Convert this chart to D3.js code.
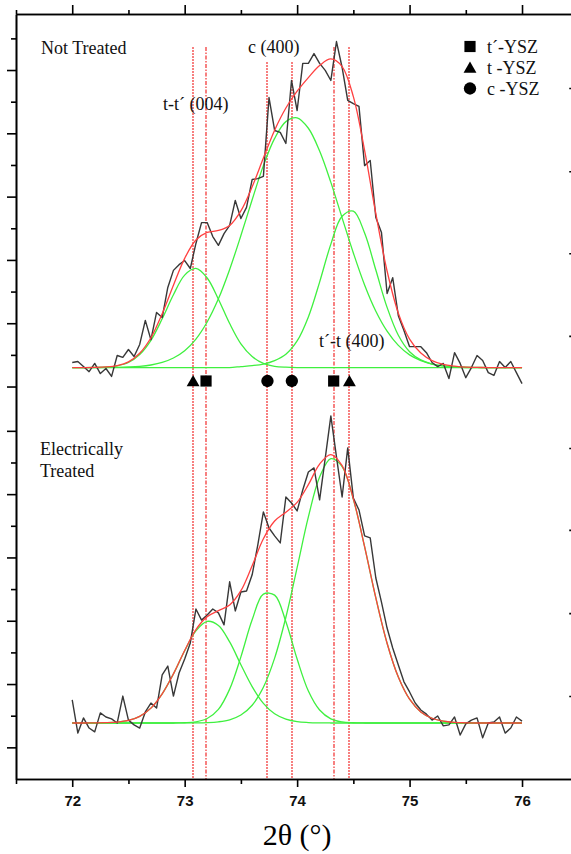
<!DOCTYPE html>
<html>
<head>
<meta charset="utf-8">
<script src="https://cdnjs.cloudflare.com/ajax/libs/d3/7.8.5/d3.min.js"></script>
<style>
    body { margin: 0; background: #fff; }
    svg { display: block; }
    .serif { font-family: "Liberation Serif", "Times New Roman", serif; }
    .tick-label { font-family: "Liberation Sans", Arial, sans-serif; font-weight: bold; }
</style>
</head>
<body>
<div id="chart"></div>
<script>

/* ---- Data (intensity in arbitrary counts, 2theta in degrees) ---- */

// measured scans, 72.00 .. 76.00 in 0.05 deg steps
var notTreatedScan = [16, 19, 3, -13, 13, -19, -3, -28, 38, 32,
    57, 35, 73, 149, 88, 174, 158, 253, 307, 325,
    338, 313, 392, 458, 458, 414, 386, 423, 449, 528,
    471, 506, 594, 597, 604, 853, 749, 743, 708, 907,
    812, 961, 961, 992, 961, 939, 907, 1030, 948, 844,
    834, 825, 638, 654, 474, 427, 234, 284, 164, 117,
    66, 66, 66, 47, 16, 3, 13, -35, 47, 13,
    -32, 0, 38, 22, -16, -25, 19, 0, 19, -16, -51];

var electricallyTreatedScan = [73, -32, 16, -16, -28, 32, 19, 13, 0, 85,
    9, -6, -16, 35, 63, 47, 152, 180, 85, 158,
    202, 253, 360, 325, 341, 360, 348, 310, 446, 354,
    414, 417, 468, 562, 667, 616, 591, 569, 714, 695,
    670, 736, 793, 806, 705, 837, 970, 841, 714, 869,
    711, 673, 591, 585, 458, 382, 300, 237, 183, 130,
    98, 63, 41, 28, 9, 22, -9, -6, 19, -38,
    -3, 9, 16, -47, 0, 3, 19, -32, -16, 19, 6];

// fitted curves, 72.0 .. 76.0 in 0.1 deg steps
var notTreatedFit = [0, 0, 0.4, 1.9, 6.3, 18, 45, 94, 170, 260,
    345, 403, 427, 433, 449, 495, 571, 662, 750, 820,
    873, 916, 954, 975, 951, 856, 686, 486, 305, 172,
    90, 46, 22, 10, 4.5, 1, 0.4, 0, 0, 0, 0];

var notTreatedPeakTT004 = [0, 0, 0.4, 1.6, 5.6, 16, 41, 86, 154, 230,
    292, 313, 283, 216, 139, 75, 35, 13, 4, 1,
    0, 0, 0, 0, 0, 0, 0, 0, 0, 0,
    0, 0, 0, 0, 0, 0, 0, 0, 0, 0, 0];

var notTreatedPeakC400 = [0, 0, 0, 0.3, 0.7, 1.7, 3.7, 8, 16, 30,
    53, 90, 144, 217, 310, 417, 530, 638, 724, 777,
    789, 756, 684, 585, 473, 362, 261, 178, 115, 70,
    40, 22, 11, 5, 2.5, 1, 0.4, 0, 0, 0, 0];

var notTreatedPeakTT400 = [0, 0, 0, 0, 0, 0, 0, 0, 0, 0,
    0, 0, 0, 0, 0, 3, 6, 11, 22, 42,
    84, 160, 270, 390, 478, 494, 425, 308, 190, 102,
    50, 24, 11, 5, 2, 0, 0, 0, 0, 0, 0];

var electricallyTreatedFit = [0, 0, 0.2, 0.8, 2.7, 8, 21, 47, 92, 155,
    229, 295, 336, 355, 373, 418, 497, 582, 638, 666,
    697, 753, 818, 848, 813, 708, 557, 395, 252, 145,
    75, 35, 15, 5.7, 1.9, 0.6, 0, 0, 0, 0, 0];

var electricallyTreatedPeak1 = [0, 0, 0.2, 0.8, 2.7, 8, 21, 47, 92, 155,
    228, 291, 321, 308, 256, 184, 115, 62, 29, 12,
    4, 1.3, 0.3, 0, 0, 0, 0, 0, 0, 0,
    0, 0, 0, 0, 0, 0, 0, 0, 0, 0, 0];

var electricallyTreatedPeak2 = [0, 0, 0, 0, 0, 0, 0, 0, 0, 0,
    0.7, 3.6, 14, 43, 107, 209, 326, 407, 404, 320,
    202, 101, 41, 13, 3.3, 0.7, 0, 0, 0, 0,
    0, 0, 0, 0, 0, 0, 0, 0, 0, 0, 0];

var electricallyTreatedPeak3 = [0, 0, 0, 0, 0, 0, 0, 0, 0, 0,
    0.1, 0.4, 1.2, 3.7, 10, 25, 56, 113, 205, 334,
    491, 651, 777, 835, 810, 707, 557, 395, 252, 145,
    75, 35, 15, 5.7, 1.9, 0.6, 0, 0, 0, 0, 0];

// vertical offsets of the two stacked patterns
var panelOffsets = [1300, 177];

// reference peak positions and their phases
var phaseLinePositions = [73.075, 73.19, 73.736, 73.953, 74.325, 74.465];
var phaseLinePhases = ["t", "t´", "c", "c", "t´", "t"];

// axis ticks
var xMajorTicks = [72, 73, 74, 75, 76];
var xMinorTicks = [71.5, 72.5, 73.5, 74.5, 75.5, 76.5];
var yMajorTicks = [100, 300, 500, 700, 900, 1100, 1240, 1440, 1640, 1840, 2040, 2240];
var yMinorTicks = [200, 400, 600, 800, 1000, 1340, 1540, 1740, 1940, 2140, 2340];
var yRightTicks = [262, 524, 787, 1046, 1400, 1661, 1920, 2183];

var legendPhases = ["t´", "t", "c"];
var legendLabels = ["t´-YSZ", "t -YSZ", "c -YSZ"];


var xrdChart = (function () {

    "use strict";

    var width = 571,
        height = 854,
        svg,
        x = d3.scaleLinear().domain([71.5, 76.5]).range([16, 578.25]),
        y = d3.scaleLinear().domain([0, 2417]).range([779, 14]),
        scanAngles = d3.range(notTreatedScan.length).map(function (i) { return 72 + i * 0.05; }),
        fitAngles = d3.range(notTreatedFit.length).map(function (i) { return 72 + i * 0.1; });

    var colors = {
        scan: "#383838",
        fit: "#ff4040",
        peak: "#3ff03f",
        refLine: "#f01818"
    };

    var symbols = {
        "t´": d3.symbol().type(d3.symbolSquare).size(125),
        "t": d3.symbol().type(d3.symbolTriangle).size(72),
        "c": d3.symbol().type(d3.symbolCircle).size(120)
    };

    /* Axes */

    function drawAxis(transform, axis, values, size, labelled) {
        var g = svg.append("g")
            .attr("transform", transform)
            .call(axis.tickValues(values)
                .tickSize(size)
                .tickSizeOuter(0)
                .tickPadding(8)
                .tickFormat(labelled ? d3.format("d") : ""));
        g.select(".domain").attr("stroke", "#000").attr("stroke-width", 1.6);
        g.selectAll(".tick line").attr("stroke", "#000").attr("stroke-width", 1.6);
        g.selectAll(".tick text")
            .attr("class", "tick-label")
            .attr("font-size", 15)
            .attr("fill", "#111");
        return g;
    }

    function drawAxes() {
        drawAxis("translate(0,779)", d3.axisBottom(x), xMajorTicks, 8, true);
        drawAxis("translate(0,779)", d3.axisBottom(x), xMinorTicks, 5, false);
        drawAxis("translate(0,14)", d3.axisTop(x), xMajorTicks, 9, false);
        drawAxis("translate(0,14)", d3.axisTop(x), xMinorTicks, 4, false);
        drawAxis("translate(16,0)", d3.axisLeft(y), yMajorTicks, 9, false);
        drawAxis("translate(16,0)", d3.axisLeft(y), yMinorTicks, 5, false);
        drawAxis("translate(" + x(76.5) + ",0)", d3.axisRight(y), yRightTicks, -9, false);

        svg.append("text")
            .attr("class", "serif")
            .attr("x", x(74))
            .attr("y", 845)
            .attr("text-anchor", "middle")
            .attr("font-size", 30)
            .text("2θ (°)");
    }

    /* Phase reference lines and markers */

    function drawPhaseLines() {
        var tops = {"t": 47, "t´": 47, "c": 62},
            dashes = {"t": "2,1", "t´": "4,1.5,1.5,1.5", "c": "2,1"};

        // lines sit on a pixel edge so they spread over two columns as soft red
        svg.append("g").selectAll("line")
            .data(phaseLinePositions)
            .enter()
            .append("line")
            .attr("x1", function (d) { return Math.round(x(d)); })
            .attr("x2", function (d) { return Math.round(x(d)); })
            .attr("y1", function (d, i) { return tops[phaseLinePhases[i]]; })
            .attr("y2", 779)
            .attr("stroke", colors.refLine)
            .attr("stroke-width", 1.1)
            .attr("stroke-dasharray", function (d, i) { return dashes[phaseLinePhases[i]]; });
    }

    function drawMarkers() {
        svg.append("g").selectAll("path")
            .data(phaseLinePositions)
            .enter()
            .append("path")
            .attr("transform", function (d, i) {
                var dy = phaseLinePhases[i] === "t" ? 1.5 : 0;
                return "translate(" + x(d) + "," + (381 + dy) + ")";
            })
            .attr("d", function (d, i) { return symbols[phaseLinePhases[i]](); })
            .attr("fill", "#000");
    }

    /* Patterns */

    function seriesLine(offset) {
        return d3.line()
            .x(function (d) { return x(d[0]); })
            .y(function (d) { return y(d[1] + offset); });
    }

    function drawPattern(scan, fit, peaks, offset) {
        var g = svg.append("g"),
            smooth = seriesLine(offset).curve(d3.curveCatmullRom.alpha(0.5)),
            raw = seriesLine(offset);

        peaks.forEach(function (peak) {
            g.append("path")
                .datum(d3.zip(fitAngles, peak))
                .attr("d", smooth)
                .attr("fill", "none")
                .attr("stroke", colors.peak)
                .attr("stroke-width", 1.3);
        });

        g.append("path")
            .datum(d3.zip(scanAngles, scan))
            .attr("d", raw)
            .attr("fill", "none")
            .attr("stroke", colors.scan)
            .attr("stroke-width", 1.4)
            .attr("stroke-linejoin", "round");

        g.append("path")
            .datum(d3.zip(fitAngles, fit))
            .attr("d", smooth)
            .attr("fill", "none")
            .attr("stroke", colors.fit)
            .attr("stroke-width", 1.3);
    }

    /* Labels and legend */

    function addText(tx, ty, label) {
        svg.append("text")
            .attr("class", "serif")
            .attr("x", tx)
            .attr("y", ty)
            .attr("font-size", 18)
            .attr("fill", "#111")
            .text(label);
    }

    function drawLabels() {
        addText(41, 54, "Not Treated");
        addText(163, 110, "t-t´ (004)");
        addText(248, 53, "c (400)");
        addText(319, 347, "t´-t (400)");
        addText(40, 455, "Electrically");
        addText(40, 477, "Treated");

        var legend = svg.append("g")
            .selectAll("g")
            .data(legendLabels)
            .enter()
            .append("g")
            .attr("transform", function (d, i) {
                return "translate(470," + (46.5 + i * 21) + ")";
            });

        legend.append("path")
            .attr("d", function (d, i) { return symbols[legendPhases[i]](); })
            .attr("transform", function (d, i) { return legendPhases[i] === "t" ? "translate(0,1.5)" : null; })
            .attr("fill", "#000");

        legend.append("text")
            .attr("class", "serif")
            .attr("x", 17)
            .attr("y", 6)
            .attr("font-size", 18)
            .attr("fill", "#111")
            .text(function (d) { return d; });
    }

    /* Render */

    function render() {
        svg = d3.select("#chart").append("svg")
            .attr("width", width)
            .attr("height", height);

        drawPhaseLines();
        drawPattern(notTreatedScan, notTreatedFit,
            [notTreatedPeakTT004, notTreatedPeakC400, notTreatedPeakTT400], panelOffsets[0]);
        drawPattern(electricallyTreatedScan, electricallyTreatedFit,
            [electricallyTreatedPeak1, electricallyTreatedPeak2, electricallyTreatedPeak3], panelOffsets[1]);
        drawMarkers();
        drawAxes();
        drawLabels();
    }

    return {
        render: render
    };

}());

xrdChart.render();
</script>
</body>
</html>
